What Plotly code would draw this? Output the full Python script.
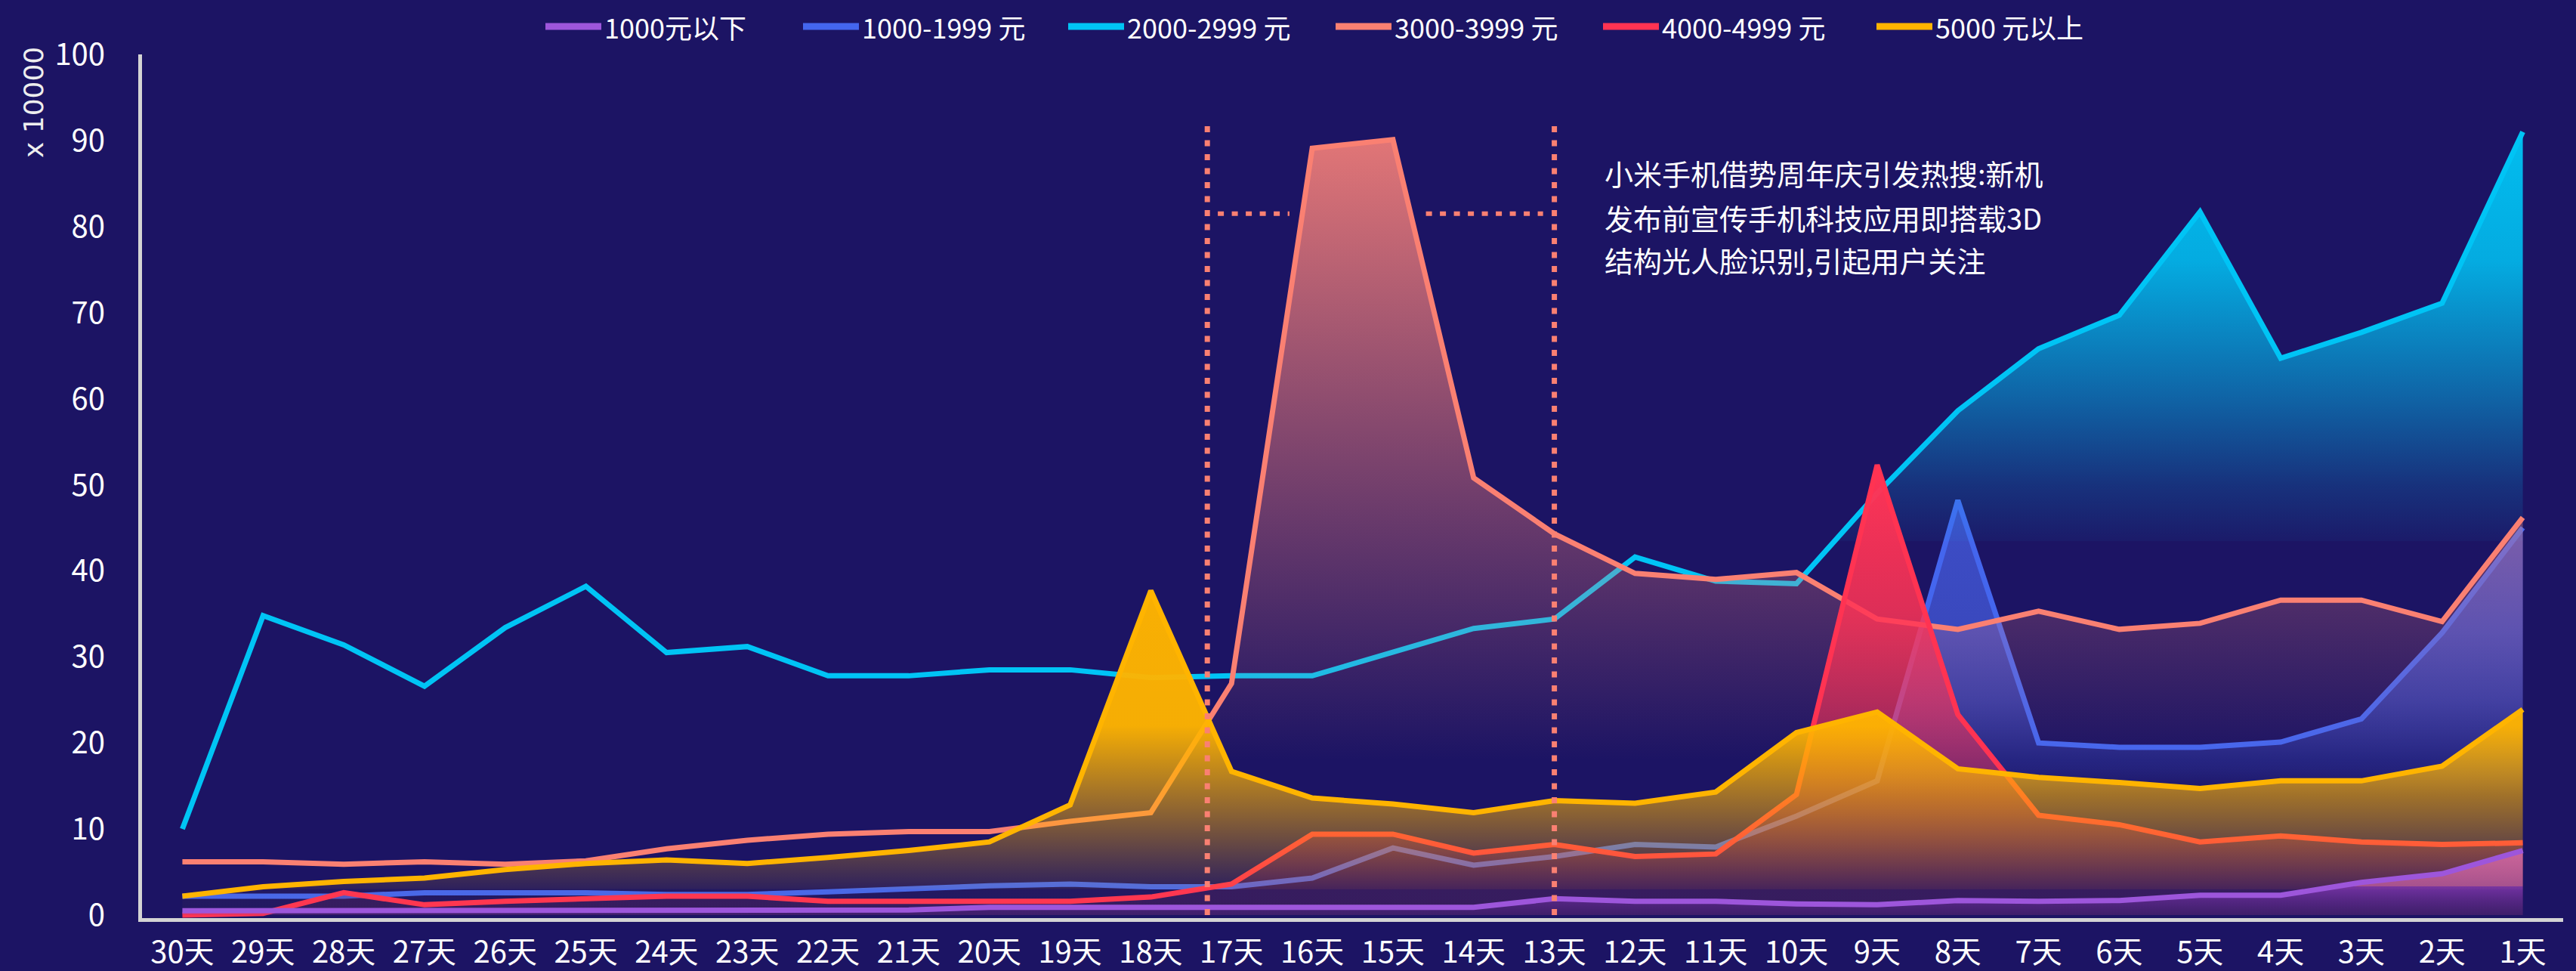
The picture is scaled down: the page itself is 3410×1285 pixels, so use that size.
import plotly.graph_objects as go

# ---------------- data ----------------
days = ["30天", "29天", "28天", "27天", "26天", "25天", "24天", "23天", "22天", "21天",
        "20天", "19天", "18天", "17天", "16天", "15天", "14天", "13天", "12天", "11天",
        "10天", "9天", "8天", "7天", "6天", "5天", "4天", "3天", "2天", "1天"]

series_names = ["1000元以下", "1000-1999 元", "2000-2999 元", "3000-3999 元", "4000-4999 元", "5000 元以上"]

v_below1000 = [0.5, 0.5, 0.5, 0.5, 0.5, 0.5, 0.5, 0.5, 0.5, 0.6, 0.9, 0.9, 0.9, 0.9, 0.9,
               0.9, 0.9, 1.9, 1.6, 1.6, 1.3, 1.2, 1.7, 1.6, 1.7, 2.3, 2.3, 3.8, 4.8, 7.5]
v_1000_1999 = [2.2, 2.2, 2.2, 2.6, 2.6, 2.6, 2.4, 2.4, 2.7, 3.1, 3.4, 3.6, 3.3, 3.3, 4.3,
               7.8, 5.8, 6.8, 8.2, 7.9, 11.5, 15.6, 48.2, 20.0, 19.5, 19.5, 20.1, 22.8, 32.8, 45.0]
v_2000_2999 = [10.0, 34.8, 31.4, 26.6, 33.4, 38.2, 30.5, 31.2, 27.8, 27.8, 28.5, 28.5, 27.6, 27.8, 27.8,
               30.5, 33.3, 34.4, 41.6, 38.8, 38.5, 49.0, 58.6, 65.8, 69.7, 81.7, 64.7, 67.7, 71.1, 91.0]
v_3000_3999 = [6.2, 6.2, 5.9, 6.2, 5.9, 6.3, 7.7, 8.7, 9.4, 9.7, 9.7, 10.9, 11.9, 26.9, 89.1,
               90.1, 50.8, 44.3, 39.7, 39.0, 39.8, 34.4, 33.2, 35.3, 33.2, 33.9, 36.6, 36.6, 34.1, 46.2]
v_4000_4999 = [0.0, 0.2, 2.6, 1.2, 1.6, 1.9, 2.2, 2.2, 1.6, 1.6, 1.6, 1.6, 2.1, 3.6, 9.4,
               9.4, 7.2, 8.2, 6.8, 7.1, 14.0, 52.3, 23.3, 11.6, 10.5, 8.5, 9.2, 8.5, 8.2, 8.4]
v_5000_up = [2.2, 3.3, 3.9, 4.3, 5.3, 6.0, 6.4, 6.0, 6.7, 7.5, 8.5, 12.8, 37.7, 16.7, 13.6,
             12.9, 11.9, 13.3, 13.0, 14.3, 21.2, 23.6, 17.0, 16.0, 15.4, 14.7, 15.6, 15.6, 17.3, 23.9]

annotation_lines = ["小米手机借势周年庆引发热搜:新机", "发布前宣传手机科技应用即搭载3D", "结构光人脸识别,引起用户关注"]
y_unit_label = "x 10000"

# event window (category positions) and level of the dotted marker line
event_x_start, event_x_end = 12.7, 17.0
event_top = 92.5
event_level = 81.5

# ---------------- style ----------------
W, H = 3410, 1285
ML, MR, MT, MB = 188, 17, 72, 70
BG = "#1c1464"
FONT = "Noto Sans CJK SC"
colors = ["#9d56db", "#4466ee", "#00c4f5", "#fa8072", "#ff3352", "#ffb400"]
MARK = "#fa8072"
LW = 7


def px_x(px):
    return (px - ML) / (W - ML - MR)


def px_y(py):
    return (H - MB - py) / (H - MB - MT)


def grad(stops, top):
    return dict(type="vertical", start=0, stop=top,
                colorscale=[[min(1.0, v / top), c] for v, c in stops])


x = list(range(len(days)))
fig = go.Figure()

# 1000-1999
top = max(v_1000_1999)
fig.add_trace(go.Scatter(
    x=x, y=v_1000_1999, mode="lines", name=series_names[1], showlegend=False,
    line=dict(color=colors[1], width=LW), fill="tozeroy",
    fillgradient=grad([(0, "rgba(68,90,220,0)"), (14, "rgba(68,90,220,0)"),
                       (17, "rgba(68,90,220,0.2)"), (25, "rgba(68,90,220,0.55)"),
                       (33, "rgba(68,90,220,0.75)"), (top, "rgba(68,90,220,0.82)")], top)))

# 2000-2999
top = max(v_2000_2999)
fig.add_trace(go.Scatter(
    x=x, y=v_2000_2999, mode="lines", name=series_names[2], showlegend=False,
    line=dict(color=colors[2], width=LW), fill="tozeroy",
    fillgradient=grad([(0, "rgba(0,196,245,0)"), (43.4, "rgba(0,196,245,0)"),
                       (43.5, "rgba(0,196,245,0.04)"), (50, "rgba(0,196,245,0.17)"),
                       (60, "rgba(0,196,245,0.45)"), (76, "rgba(0,196,245,0.86)"),
                       (top, "rgba(0,196,245,0.96)")], top)))

# 3000-3999
top = max(v_3000_3999)
fig.add_trace(go.Scatter(
    x=x, y=v_3000_3999, mode="lines", name=series_names[3], showlegend=False,
    line=dict(color=colors[3], width=LW), fill="tozeroy",
    fillgradient=grad([(0, "rgba(240,125,120,0)"), (18, "rgba(240,125,120,0)"),
                       (top, "rgba(240,125,120,0.93)")], top)))

# 4000-4999
top = max(v_4000_4999)
fig.add_trace(go.Scatter(
    x=x, y=v_4000_4999, mode="lines", name=series_names[4], showlegend=False,
    line=dict(color=colors[4], width=LW), fill="tozeroy",
    fillgradient=grad([(0, "rgba(110,35,90,0.25)"), (3.0, "rgba(110,35,90,0.25)"),
                       (3.05, "rgba(255,51,85,0.12)"), (10, "rgba(255,51,85,0.3)"),
                       (23, "rgba(255,51,85,0.6)"), (35, "rgba(255,51,85,0.85)"),
                       (top, "rgba(255,51,85,1)")], top)))

# 5000+
top = max(v_5000_up)
fig.add_trace(go.Scatter(
    x=x, y=v_5000_up, mode="lines", name=series_names[5], showlegend=False,
    line=dict(color=colors[5], width=LW), fill="tozeroy",
    fillgradient=grad([(0, "rgba(255,180,0,0.03)"), (3.0, "rgba(255,180,0,0.03)"),
                       (3.05, "rgba(255,180,0,0.08)"), (22, "rgba(255,180,0,0.96)"),
                       (top, "rgba(255,180,0,0.97)")], top)))

# below 1000 (drawn last so it stays on top)
top = max(v_below1000)
fig.add_trace(go.Scatter(
    x=x, y=v_below1000, mode="lines", name=series_names[0], showlegend=False,
    line=dict(color=colors[0], width=LW), fill="tozeroy",
    fillgradient=grad([(0, "rgba(110,45,170,0.15)"), (3.3, "rgba(140,60,190,0.7)"),
                       (3.36, "rgba(215,105,170,0.65)"), (top, "rgba(215,105,170,0.85)")], top)))


# ---------------- reference lines ----------------
def crossings(vals, level, lo, hi):
    pts = []
    for i in range(len(vals) - 1):
        a, b = vals[i], vals[i + 1]
        if i + 1 < lo or i > hi:
            continue
        if (a - level) * (b - level) < 0:
            pts.append(i + (level - a) / (b - a))
    return pts


cr = crossings(v_3000_3999, event_level, event_x_start, event_x_end)
dash = dict(color=MARK, width=6, dash="8px,10.5px")
shapes = [
    dict(type="line", xref="x", yref="y", x0=event_x_start, x1=event_x_start, y0=0, y1=event_top,
         line=dict(color=MARK, width=7, dash="8px,10.5px"), layer="above"),
    dict(type="line", xref="x", yref="y", x0=event_x_end, x1=event_x_end, y0=0, y1=event_top,
         line=dict(color=MARK, width=7, dash="8px,10.5px"), layer="above"),
]
if len(cr) >= 2:
    shapes.append(dict(type="line", xref="x", yref="y", x0=event_x_start + 0.13, x1=cr[0] - 0.16,
                       y0=event_level, y1=event_level, line=dash, layer="above"))
    shapes.append(dict(type="line", xref="x", yref="y", x0=cr[-1] + 0.19, x1=event_x_end - 0.14,
                       y0=event_level, y1=event_level, line=dash, layer="above"))

annotations = []
# custom legend (long line keys)
legend_text_left = [802, 1143, 1494, 1848, 2202, 2564]
for name, col, tl in zip(series_names, colors, legend_text_left):
    shapes.append(dict(type="line", xref="paper", yref="paper",
                       x0=px_x(tl - 80), x1=px_x(tl - 6), y0=px_y(35), y1=px_y(35),
                       line=dict(color=col, width=9)))
    annotations.append(dict(xref="paper", yref="paper", x=px_x(tl - 4), y=px_y(35),
                            xanchor="left", yanchor="middle", showarrow=False,
                            text=name, font=dict(family=FONT, size=36, color="white")))

# event note
for line, py in zip(annotation_lines, [228, 287, 344]):
    annotations.append(dict(xref="paper", yref="paper", x=px_x(2122), y=px_y(py),
                            xanchor="left", yanchor="middle", showarrow=False,
                            text=line, font=dict(family=FONT, size=38, color="white")))

# unit label
annotations.append(dict(xref="paper", yref="paper", x=px_x(44), y=px_y(136),
                        xanchor="center", yanchor="middle", showarrow=False, textangle=-90,
                        text=y_unit_label, font=dict(family="DejaVu Sans", size=36, color="#eeeeee")))

fig.update_layout(
    width=W, height=H,
    margin=dict(l=ML, r=MR, t=MT, b=MB, autoexpand=False),
    paper_bgcolor=BG, plot_bgcolor=BG,
    showlegend=False,
    font=dict(family=FONT, color="white"),
    shapes=shapes,
    annotations=annotations,
    xaxis=dict(type="linear", range=[-0.5, 29.5], tickmode="array", tickvals=x, ticktext=days,
               showgrid=False, zeroline=False, showline=True, linecolor="#d4d4d4", linewidth=5,
               ticks="", tickfont=dict(family=FONT, size=40, color="white"), ticklabelstandoff=6,
               automargin=False),
    yaxis=dict(range=[-0.35, 100], dtick=10, tick0=0, showgrid=False, zeroline=False,
               showline=True, linecolor="#d4d4d4", linewidth=5, ticks="",
               tickfont=dict(family=FONT, size=40, color="white"), ticklabelstandoff=36,
               automargin=False),
)

fig.write_html("out.html",
               config={"displayModeBar": False},
               post_script="document.body.style.margin='0px';document.body.style.overflow='hidden';")
